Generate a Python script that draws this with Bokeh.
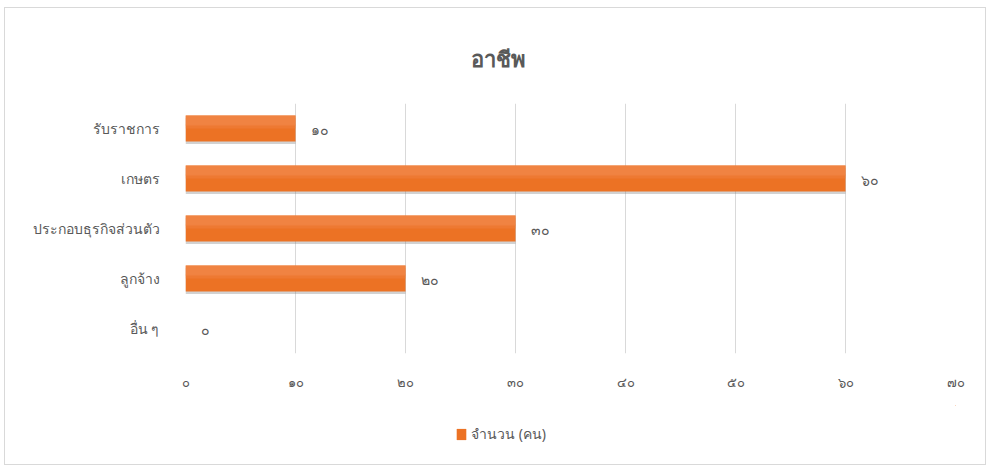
from bokeh.plotting import figure
from bokeh.layouts import column
from bokeh.models import (ColumnDataSource, FactorRange, Range1d, LabelSet,
                          Legend, LegendItem, FixedTicker)
from bokeh.transform import dodge
from bokeh.embed import file_html
from bokeh.resources import INLINE

# ---- data ----
categories = ["รับราชการ", "เกษตร", "ประกอบธุรกิจส่วนตัว", "ลูกจ้าง", "อื่น ๆ"]
values = [10, 60, 30, 20, 0]
value_labels = ["๑๐", "๖๐", "๓๐", "๒๐", "๐"]
tick_values = [0, 10, 20, 30, 40, 50, 60, 70]
tick_labels = ["๐", "๑๐", "๒๐", "๓๐", "๔๐", "๕๐", "๖๐", "๗๐"]
title_text = "อาชีพ"
series_name = "จำนวน (คน)"

FONT = "Noto Sans"
GRAY = "#595959"
BAR = "#EC7224"

src = ColumnDataSource(dict(cat=categories, val=values, lab=value_labels))

p = figure(frame_width=770, frame_height=250, output_backend="svg", toolbar_location=None,
           y_range=FactorRange(factors=list(reversed(categories))),
           x_range=Range1d(0, 70),
           min_border_left=180, min_border_right=30,
           min_border_top=95, min_border_bottom=52)
p.outline_line_color = None
p.background_fill_color = "white"
p.border_fill_color = "white"

# title
p.title.text = title_text
p.title.align = "left"
p.title.offset = 285
p.title.standoff = 62
p.title.text_font = FONT
p.title.text_font_size = "22px"
p.title.text_font_style = "bold"
p.title.text_color = GRAY

# shadow
p.hbar(y=dodge("cat", -0.05, range=p.y_range), right="val", left=0, height=0.52,
       source=src, fill_color="#7f7f7f", fill_alpha=0.35, line_color=None)
# main bar
bars = p.hbar(y="cat", right="val", left=0, height=0.52, source=src,
              fill_color=BAR, line_color=None)
# lighter upper part to mimic gradient
p.hbar(y=dodge("cat", 0.16, range=p.y_range), right="val", left=0, height=0.20,
       source=src, fill_color="#F28A4C", fill_alpha=0.75, line_color=None)
p.hbar(y=dodge("cat", 0.04, range=p.y_range), right="val", left=0, height=0.08,
       source=src, fill_color="#F08040", fill_alpha=0.5, line_color=None)

labels = LabelSet(x="val", y="cat", text="lab", source=src, x_offset=15, y_offset=-2,
                  text_baseline="middle", text_font=FONT, text_font_size="14px",
                  text_color=GRAY)
p.add_layout(labels)

# axes
p.xaxis.ticker = FixedTicker(ticks=tick_values)
p.xaxis.major_label_overrides = {v: t for v, t in zip(tick_values, tick_labels)}
p.xaxis.axis_line_color = None
p.xaxis.major_tick_line_color = "#D9D9D9"
p.xaxis.major_tick_in = 0
p.xaxis.major_tick_out = 0
p.xaxis.minor_tick_line_color = None
p.xaxis.major_label_standoff = 19
p.xaxis.major_label_text_font = FONT
p.xaxis.major_label_text_font_size = "13px"
p.xaxis.major_label_text_color = GRAY

p.yaxis.axis_line_color = None
p.yaxis.major_tick_line_color = None
p.yaxis.minor_tick_line_color = None
p.yaxis.major_label_standoff = 20
p.yaxis.major_label_text_font = FONT
p.yaxis.major_label_text_font_size = "14px"
p.yaxis.major_label_text_color = GRAY

p.xgrid.grid_line_color = "#D9D9D9"
p.xgrid.grid_line_width = 1
p.ygrid.grid_line_color = None

# ---- legend strip (second figure; proxy renderer of the same series, out of view) ----
p2 = figure(width=980, height=59, output_backend="svg", toolbar_location=None,
            x_range=Range1d(-1000, -999), y_range=Range1d(-1000, -999),
            min_border=0, min_border_left=0, min_border_right=0,
            min_border_top=0, min_border_bottom=0)
p2.axis.visible = False
p2.grid.visible = False
p2.outline_line_color = None
p2.border_fill_color = "white"
leg_r = p2.hbar(y="val", right="val", left=0, height=0.52, source=src,
                fill_color=BAR, line_color=None)

legend = Legend(items=[LegendItem(label=series_name, renderers=[leg_r])],
                location=(270, 19), orientation="horizontal",
                glyph_width=12, glyph_height=14, label_height=14,
                padding=0, margin=0, label_standoff=4,
                border_line_color=None, background_fill_alpha=0,
                label_text_font=FONT, label_text_font_size="14px",
                label_text_color=GRAY)
p2.add_layout(legend)

box = column(p, p2, spacing=0,
             styles={"margin-left": "4px", "margin-top": "7px",
                     "border": "1px solid #D9D9D9"})

open("out.html", "w").write(file_html(box, INLINE))
